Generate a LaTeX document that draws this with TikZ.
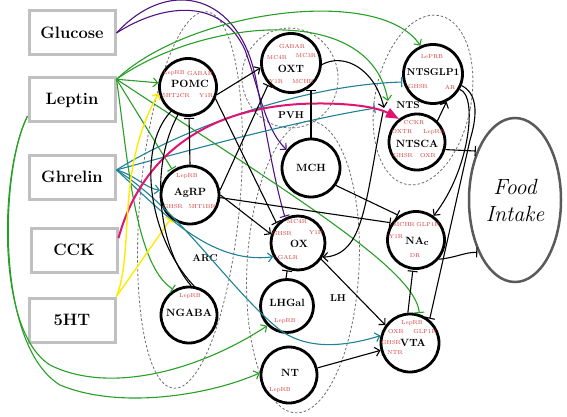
\documentclass[tikz,border=0pt]{standalone}
\usetikzlibrary{arrows.meta,shapes.geometric,calc}
\definecolor{cpurple}{RGB}{80,20,130}
\definecolor{cgreen}{RGB}{40,160,40}
\definecolor{cteal}{RGB}{30,130,150}
\definecolor{cmag}{RGB}{225,20,115}
\definecolor{cyellow}{RGB}{255,235,0}
\definecolor{recred}{RGB}{215,60,60}
\definecolor{boxgray}{RGB}{192,192,192}
\definecolor{dashgray}{RGB}{110,110,110}
\definecolor{foodgray}{RGB}{90,90,90}
\tikzset{
 srcbox/.style={draw=boxgray, line width=3pt, fill=white, minimum width=86pt, minimum height=44pt, inner sep=0pt, font=\fontsize{16.5}{19}\selectfont\bfseries},
 nuc/.style={circle, draw=black, line width=2.8pt, fill=white, inner sep=0pt},
 lbl/.style={font=\fontsize{10.5}{12}\selectfont\bfseries, inner sep=0pt},
 rec/.style={text=recred, font=\fontsize{5.8}{7}\selectfont, inner sep=0pt},
 region/.style={font=\fontsize{10}{12}\selectfont\bfseries, inner sep=0pt},
 zone/.style={ellipse, draw=dashgray, line width=0.8pt, dash pattern=on 2.5pt off 2pt, inner sep=0pt},
 conn/.style={line width=1.1pt},
 act/.style={conn, -{Straight Barb[length=4.5pt,width=9pt]}},
 inh/.style={conn, -{Bar[width=10pt]}, shorten >=1pt},
}
\begin{document}
\begin{tikzpicture}[x=1pt,y=-1pt]
\useasboundingbox (0,0) rectangle (567,417);
\fill[white] (0,0) rectangle (567,417);

% dashed regions
\node[zone, minimum width=100pt, minimum height=378pt, rotate=-5] (arc) at (190,200) {};
\node[zone, minimum width=96pt, minimum height=100pt, rotate=10] (pvh) at (290,78) {};
\node[zone, minimum width=112pt, minimum height=292pt, rotate=-3] (lh) at (303,267) {};
\node[zone, minimum width=96pt, minimum height=172pt, rotate=-11] (nts) at (423,100) {};

% source boxes
\node[srcbox] (glu) at (72,33) {Glucose};
\node[srcbox] (lep) at (72,100) {Leptin};
\node[srcbox] (ghr) at (72,177) {Ghrelin};
\node[srcbox] (cck) at (74,250) {CCK};
\node[srcbox] (fht) at (72,320) {5HT};

% nuclei
\node[nuc, minimum size=57pt] (POMC) at (188,87) {};
\node[nuc, minimum size=58pt] (AgRP) at (190,195) {};
\node[nuc, minimum size=56pt] (NGABA) at (189,315) {};
\node[nuc, minimum size=59pt] (OXT) at (291,63) {};
\node[nuc, minimum size=58pt] (MCH) at (311,168) {};
\node[nuc, minimum size=59pt] (NTSGLP1) at (433,74) {};
\node[nuc, minimum size=56pt] (NTSCA) at (417,142) {};
\node[nuc, minimum size=54pt] (OX) at (298,243) {};
\node[nuc, minimum size=53pt] (LHGal) at (287,306) {};
\node[nuc, minimum size=56pt] (NT) at (289,375) {};
\node[nuc, minimum size=57pt] (NAc) at (416,240) {};
\node[nuc, minimum size=58pt] (VTA) at (410,343) {};
\node[ellipse, draw=foodgray, line width=2.5pt, fill=white, minimum width=92pt, minimum height=164pt, inner sep=0pt, align=center, font=\fontsize{22}{27}\selectfont\itshape] (Food) at (515,200) {Food\\Intake};

% labels in nuclei
\node[lbl] (tPOMC) at (190,84) {POMC};
\node[rec] (r1) at (174,73) {LepRB};
\node[rec] (r2) at (200,73) {GABAR};
\node[rec] (r3) at (176,96) {5HT2CR};
\node[rec] (r4) at (206,96) {Y1R};

\node[lbl] (tAgRP) at (190,193) {AgRP};
\node[rec] (r5) at (187,176) {LepRB};
\node[rec] (r6) at (173,207) {GHSR};
\node[rec] (r7) at (202,207) {5HT1BR};

\node[lbl] (tNGABA) at (189,313) {NGABA};
\node[rec] (r8) at (190,296) {LepRB};

\node[lbl] (tOXT) at (291,69) {OXT};
\node[rec] (r9) at (292,46) {GABAR};
\node[rec] (r10) at (277,58) {MC4R};
\node[rec] (r11) at (306,56) {MC3R};
\node[rec] (r12) at (276,82) {Y1R};
\node[rec] (r13) at (303,82) {MCHR};

\node[lbl] (tMCH) at (311,168) {MCH};

\node[lbl, font=\fontsize{10}{12}\selectfont\bfseries] (tNTSGLP1) at (433,72) {NTSGLP1};
\node[rec] (r14) at (432,57) {LePRB};
\node[rec] (r15) at (418,87) {GHSR};
\node[rec] (r16) at (450,87) {AR};

\node[lbl] (tNTSCA) at (417,144) {NTSCA};
\node[rec] (r17) at (414,123) {CCKR};
\node[rec] (r18) at (402,132) {OXTR};
\node[rec] (r19) at (434,132) {LepRB};
\node[rec] (r20) at (403,156) {GHSR};
\node[rec] (r21) at (428,156) {OXR};

\node[lbl] (tOX) at (299,244) {OX};
\node[rec] (r22) at (297,222) {MC4R};
\node[rec] (r23) at (282,234) {GHSR};
\node[rec] (r24) at (316,233) {Y1R};
\node[rec] (r25) at (288,257) {GALR};

\node[lbl] (tLHGal) at (287,303) {LHGal};
\node[rec] (r26) at (285,321) {LepRB};

\node[lbl] (tNT) at (290,373) {NT};
\node[rec] (r27) at (280,390) {LepRB};

\node[lbl] (tNAc) at (417,241) {NA\raisebox{-1.2pt}{\fontsize{9}{10}\selectfont c}};
\node[rec] (r28) at (404,225) {MCHR};
\node[rec] (r29) at (428,225) {GLP1R};
\node[rec] (r30) at (396,237) {Y1R};
\node[rec] (r31) at (415,256) {DR};

\node[lbl] (tVTA) at (413,343) {VTA};
\node[rec] (r32) at (412,323) {LepRB};
\node[rec] (r33) at (396,332) {OXR};
\node[rec] (r34) at (425,332) {GLP1R};
\node[rec] (r35) at (391,343) {GHSR};
\node[rec] (r36) at (395,353) {NTR};

% region labels
\node[region] (lARC) at (205,258) {ARC};
\node[region] (lPVH) at (291,115) {PVH};
\node[region] (lLH) at (338,298) {LH};
\node[region] (lNTS) at (408,105) {NTS};

% free ends in the NTS region
\coordinate (ntsG) at (388,101);
\coordinate (ntsT) at (376,108);
\coordinate (ntsA) at (384,108);
\coordinate (ntsB) at (383,112);

% purple (glucose)
\draw[act, cpurple] (glu.east) .. controls (160,5) and (220,-5) .. (245,50) .. controls (258,85) and (265,130) .. (MCH.143);
\draw[inh, cpurple] (glu.east) .. controls (170,-25) and (240,-5) .. (256,80) .. controls (266,130) and (274,180) .. (OX.117);

% green (leptin)
\draw[act, cgreen] (lep.25) -- (POMC.172);
\draw[inh, cgreen] (lep.25) -- (AgRP.125);
\draw[inh, cgreen] (lep.25) .. controls (128,160) and (135,265) .. (NGABA.121);
\draw[inh, cgreen] (lep.25) .. controls (300,200) and (415,270) .. (VTA.72);
\draw[act, cgreen] (lep.25) .. controls (190,10) and (380,-15) .. (NTSGLP1.114);
\draw[act, cgreen] (lep.25) .. controls (200,20) and (370,0) .. (ntsG);
\draw[act, cgreen] (lep.200) .. controls (0,170) and (-5,330) .. (50,365) .. controls (110,395) and (200,370) .. (LHGal.225);
\draw[act, cgreen] (lep.200) .. controls (0,170) and (-5,345) .. (60,385) .. controls (120,410) and (210,395) .. (NT.176);

% teal (ghrelin)
\draw[act, cteal] (ghr.9) .. controls (135,175) and (145,188) .. (AgRP.171);
\draw[act, cteal] (ghr.9) .. controls (160,210) and (210,265) .. (OX.209);
\draw[act, cteal] (ghr.9) .. controls (180,210) and (230,290) .. (280,330) .. controls (310,352) and (350,345) .. (VTA.166);
\draw[inh, cteal] (ghr.9) .. controls (180,130) and (300,85) .. (NTSGLP1.195);
\draw[inh, cteal] (ghr.9) .. controls (190,150) and (300,120) .. (ntsT);

% magenta (CCK)
\draw[cmag, line width=2pt, -{Triangle[length=13pt,width=10pt]}] (cck.15) .. controls (140,160) and (200,110) .. (300,104) .. controls (340,102) and (375,106) .. (NTSCA.128);

% yellow (5HT)
\draw[act, cyellow, line width=1.4pt] (fht.north east) .. controls (135,250) and (115,170) .. (POMC.192);
\draw[inh, cyellow, line width=1.4pt] (fht.north east) -- (AgRP.231);

% black
\draw[act] (POMC.-15) -- (OXT.189);
\draw[inh] (AgRP.90) -- (POMC.272);
\draw[inh] (AgRP.9) -- (OXT.223);
\draw[inh] (POMC.-23) -- (OX.138);
\draw[act] (AgRP.0) -- (OX.162);
\draw[inh] (AgRP.-5) -- (NAc.145);
\draw[inh] (MCH.north) -- ($(MCH.north |- OXT.-45)+(0,4)$);
\draw[inh] (MCH.-35) -- (NAc.125);
\draw[act] (OXT.-3) .. controls (345,52) and (375,70) .. (ntsA);
\draw[act] (ntsB) .. controls (365,200) and (365,255) .. (OX.-30);
\draw[act] (NTSCA.46) -- (NTSGLP1.-64);
\draw[inh] (NTSCA.-15) -- (Food.128);
\draw[inh] (NAc.-40) .. controls (455,258) and (465,252) .. (Food.235);
\draw[act] (NTSGLP1.-30) .. controls (478,95) and (470,170) .. (NAc.54);
\draw[inh] (NTSGLP1.-22) .. controls (480,95) and (476,120) .. (470,140) -- (VTA.50);
\draw[inh] (VTA.94) -- (NAc.264);
\draw[act] (OX.-35) -- (VTA.144);
\draw[act] (NT.14) -- (VTA.194);
\draw[inh] (LHGal.92) -- (OX.248);
\draw[conn] (NGABA.80) .. controls (150,240) and (135,150) .. (POMC.235);
\draw[conn] (NGABA.86) .. controls (160,250) and (148,170) .. (POMC.250);
\end{tikzpicture}
\end{document}
